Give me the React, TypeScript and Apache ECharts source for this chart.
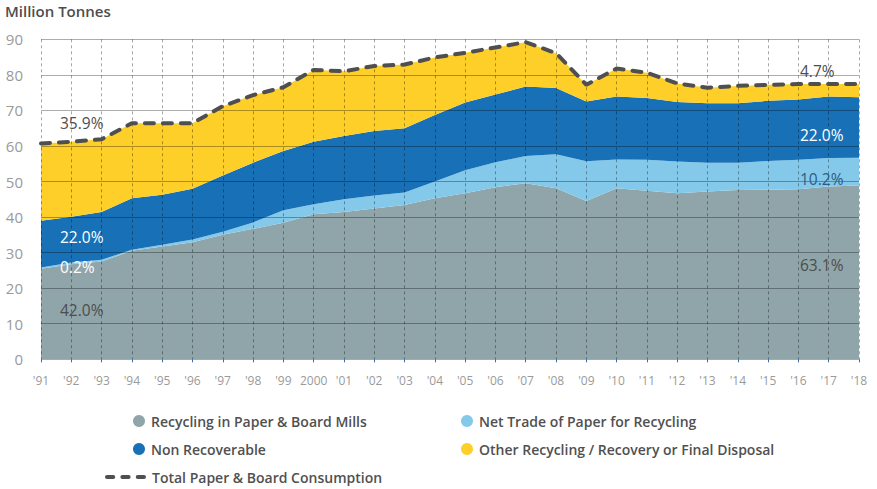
import React, { useEffect, useRef } from 'react';
import * as echarts from 'echarts';

const years = ["'91", "'92", "'93", "'94", "'95", "'96", "'97", "'98", "'99", '2000', "'01", "'02", "'03", "'04", "'05", "'06", "'07", "'08", "'09", "'10", "'11", "'12", "'13", "'14", "'15", "'16", "'17", "'18"];
const recycling = [25.5, 26.7, 27.5, 30.5, 31.7, 32.9, 35.0, 36.7, 38.4, 40.8, 41.4, 42.4, 43.4, 45.3, 46.7, 48.4, 49.5, 48.1, 44.5, 48.1, 47.4, 46.7, 47.2, 47.6, 47.7, 47.8, 48.6, 48.9];
const netTrade = [0.3, 0.5, 0.5, 0.3, 0.5, 0.8, 0.9, 1.8, 3.5, 2.8, 3.6, 3.7, 3.5, 4.7, 6.5, 7.0, 7.7, 9.6, 11.2, 8.1, 8.7, 8.9, 8.1, 7.7, 8.1, 8.3, 8.0, 7.8];
const nonRecoverable = [13.2, 12.9, 13.4, 14.5, 14.1, 14.3, 15.8, 16.8, 16.7, 17.6, 17.8, 18.1, 18.1, 18.7, 19.0, 19.1, 19.5, 18.6, 16.8, 17.7, 17.4, 16.8, 16.7, 16.7, 16.9, 17.0, 17.3, 17.0];
const otherRecovery = [21.7, 21.1, 20.5, 21.1, 20.1, 18.4, 19.5, 19.0, 17.9, 20.2, 18.2, 18.3, 17.9, 16.2, 14.0, 13.2, 12.5, 9.8, 4.7, 7.9, 7.1, 5.2, 4.4, 4.9, 4.5, 4.3, 3.5, 3.7];
const totalConsumption = [60.7, 61.2, 61.9, 66.4, 66.4, 66.4, 71.2, 74.3, 76.5, 81.4, 81.0, 82.5, 82.9, 84.9, 86.2, 87.7, 89.2, 86.1, 77.2, 81.8, 80.6, 77.6, 76.4, 76.9, 77.2, 77.4, 77.4, 77.4];

const names = {
  rec: 'Recycling in Paper & Board Mills',
  net: 'Net Trade of Paper for Recycling',
  non: 'Non Recoverable',
  oth: 'Other Recycling / Recovery or Final Disposal',
  tot: 'Total Paper & Board Consumption',
};

const shareLabels1991 = ['35.9%', '22.0%', '0.2%', '42.0%'];
const shareLabels2018 = ['4.7%', '22.0%', '10.2%', '63.1%'];

const FONT = '"Open Sans", "Noto Sans", sans-serif';
const COLORS = { rec: '#8fa5aa', net: '#84c9e9', non: '#1870b6', oth: '#fecf29', tot: '#4f4f4f' };

export default function App() {
  const ref = useRef<HTMLDivElement>(null);
  useEffect(() => {
    if (!ref.current) return;
    const chart = echarts.init(ref.current, null, { renderer: 'svg' });
    const area = (name: string, data: number[], color: string) => ({
      name,
      type: 'line',
      stack: 'total',
      data,
      symbol: 'none',
      lineStyle: { width: 0 },
      areaStyle: { color, opacity: 1 },
      itemStyle: { color },
      z: 2,
    });
    const legendText = { color: '#505050', fontSize: 14, fontFamily: FONT, fontWeight: 600, lineHeight: 14 };
    const labelColors1991 = ['#4d4d4d', '#ffffff', '#ffffff', '#4d4d4d'];
    const labelY1991 = [123, 237, 267, 310];
    const labelColors2018 = ['#4d4d4d', '#ffffff', '#2a5d86', '#4d4d4d'];
    const labelY2018 = [71, 135, 179, 265];
    const mkText = (x: number, y: number, text: string, fill: string) => ({
      type: 'text',
      x,
      y,
      z: 100,
      style: { text, fill, fontSize: 15.5, fontFamily: FONT, verticalAlign: 'middle', align: 'left' },
    });
    chart.setOption({
      animation: false,
      grid: { left: 41, right: 18, top: 39.3, bottom: 129.7, containLabel: false },
      xAxis: {
        type: 'category',
        data: years,
        boundaryGap: false,
        z: 5,
        axisLine: { show: false },
        axisTick: { show: true, length: 3, lineStyle: { color: '#2f6fb3', width: 1 } },
        axisLabel: { color: '#9a9a9a', fontSize: 12, fontFamily: FONT, margin: 15, interval: 0 },
        splitLine: { show: true, lineStyle: { color: 'rgba(0,0,0,0.35)', type: [3, 3], width: 1 } },
      },
      yAxis: {
        type: 'value',
        min: 0,
        max: 90,
        interval: 10,
        z: 5,
        axisLine: { show: false },
        axisTick: { show: false },
        axisLabel: { color: '#9a9a9a', fontSize: 15, fontFamily: FONT, margin: 18 },
        splitLine: { show: true, lineStyle: { color: 'rgba(0,0,0,0.32)', width: 1 } },
      },
      legend: [
        {
          data: [names.rec, names.non],
          orient: 'vertical',
          left: 133,
          top: 414,
          padding: 0,
          itemWidth: 14,
          itemHeight: 12,
          itemGap: 14,
          icon: 'circle',
          textStyle: legendText,
          selectedMode: false,
        },
        {
          data: [names.net, names.oth],
          orient: 'vertical',
          left: 461,
          top: 414,
          padding: 0,
          itemWidth: 14,
          itemHeight: 12,
          itemGap: 14,
          icon: 'circle',
          textStyle: legendText,
          selectedMode: false,
        },
        {
          data: [names.tot],
          orient: 'vertical',
          left: 105,
          top: 470,
          padding: 0,
          itemWidth: 41,
          itemHeight: 5,
          icon: 'path://M2,0h6a2,2 0 0 1 0,4h-6a2,2 0 0 1 0,-4z M17,0h6a2,2 0 0 1 0,4h-6a2,2 0 0 1 0,-4z M32,0h6a2,2 0 0 1 0,4h-6a2,2 0 0 1 0,-4z',
          textStyle: { ...legendText, padding: [0, 0, 0, 1] },
          selectedMode: false,
        },
      ],
      title: {
        text: 'Million Tonnes',
        left: 5,
        top: 3,
        padding: 0,
        textStyle: { color: '#4d4d4d', fontSize: 15, fontFamily: FONT, fontWeight: 600 },
      },
      graphic: [
        ...shareLabels1991.map((t, i) => mkText(60, labelY1991[i], t, labelColors1991[i])),
        ...shareLabels2018.map((t, i) => mkText(800, labelY2018[i], t, labelColors2018[i])),
      ],
      series: [
        area(names.rec, recycling, COLORS.rec),
        area(names.net, netTrade, COLORS.net),
        area(names.non, nonRecoverable, COLORS.non),
        area(names.oth, otherRecovery, COLORS.oth),
        {
          name: names.tot,
          type: 'line',
          data: totalConsumption,
          symbol: 'none',
          itemStyle: { color: COLORS.tot },
          lineStyle: { color: COLORS.tot, width: 4, type: [9, 9], cap: 'round' },
          z: 10,
        },
      ],
    });
    return () => chart.dispose();
  }, []);
  return <div ref={ref} style={{ position: 'fixed', left: 0, top: 0, width: 877, height: 489, background: '#fff' }} />;
}
